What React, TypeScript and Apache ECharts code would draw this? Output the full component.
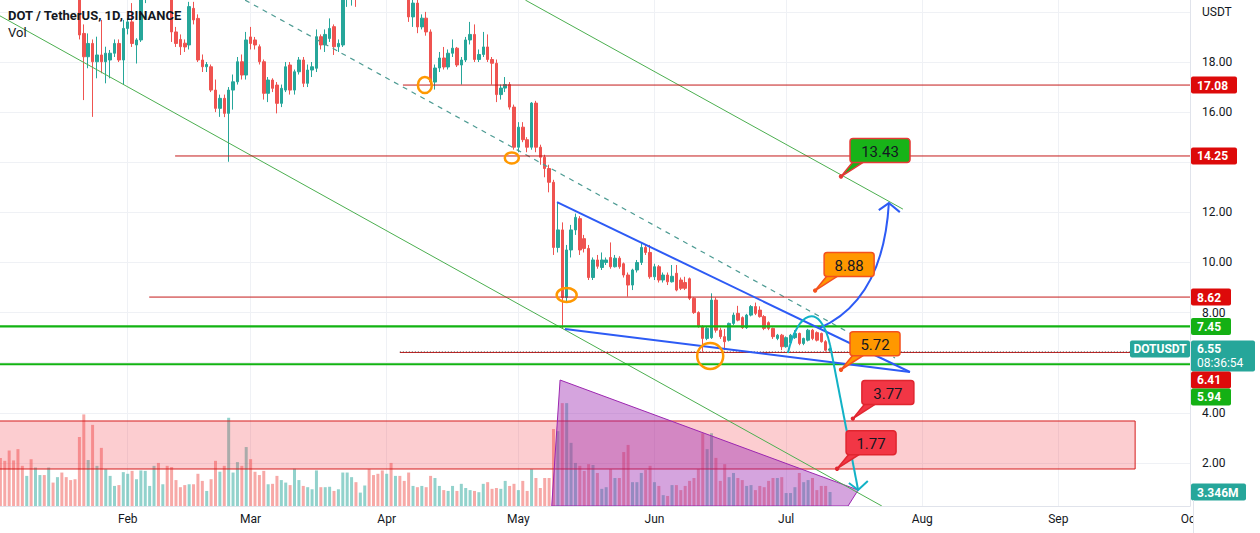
import React, { useEffect, useRef } from 'react';
import * as echarts from 'echarts';

// ---------------- data (DOT/USDT daily, Binance, 2022) ----------------
// x positions are day-of-year indexes (Jan 1 = 0); first candle = 2022-01-03
const firstCandleDay = 2;
// [open, close, low, high]
const ohlc: number[][] = [
  [29.0, 28.2, 27.6, 29.5], [28.2, 27.6, 27.2, 29.0], [27.6, 25.3, 24.9, 28.3], [25.3, 24.9, 24.2, 25.8],
  [24.9, 23.4, 22.9, 25.2], [23.4, 23.2, 22.8, 24.0], [23.2, 23.8, 22.7, 24.3], [23.8, 23.7, 21.9, 24.3],
  [23.7, 25.4, 23.3, 25.8], [25.4, 27.2, 25.2, 27.7], [27.2, 26.0, 25.6, 27.6], [26.0, 26.3, 25.5, 26.9],
  [26.3, 26.0, 25.4, 26.6], [26.0, 26.8, 25.8, 27.1], [26.8, 25.6, 25.1, 27.0], [25.6, 25.2, 24.6, 26.0],
  [25.2, 24.4, 24.1, 26.0], [24.4, 23.5, 22.9, 24.7], [23.5, 19.08, 18.9, 23.9], [19.14, 18.21, 16.48, 19.5],
  [18.21, 18.74, 17.75, 19.14], [18.74, 18.01, 15.81, 18.9], [18.01, 18.28, 17.35, 19.01], [18.28, 18.01, 17.55, 19.68],
  [18.01, 18.35, 17.15, 18.61], [18.08, 18.35, 17.35, 18.48], [18.35, 18.74, 18.2, 18.9], [18.74, 18.08, 18.0, 18.9],
  [18.08, 19.34, 17.08, 19.68], [19.34, 19.6, 19.1, 19.75], [19.6, 18.74, 18.6, 20.35], [18.68, 18.88, 17.94, 18.95],
  [18.88, 20.9, 18.8, 21.0], [20.9, 21.5, 20.35, 21.8], [21.5, 22.0, 21.2, 22.4], [22.0, 22.5, 21.7, 23.0],
  [22.5, 21.7, 21.3, 22.9], [21.7, 22.3, 21.5, 22.8], [22.3, 20.9, 20.7, 22.6], [20.9, 19.2, 18.8, 21.2],
  [19.2, 18.74, 18.6, 19.4], [18.9, 18.61, 18.28, 19.1], [18.75, 18.6, 18.4, 18.9], [18.68, 20.21, 18.5, 20.4],
  [20.14, 19.68, 19.5, 20.4], [19.74, 18.08, 18.0, 19.9], [18.08, 17.81, 17.6, 18.3], [17.81, 17.9, 17.6, 18.0],
  [17.81, 16.88, 16.8, 17.9], [16.88, 16.15, 16.0, 17.3], [16.15, 16.55, 15.81, 16.7], [16.55, 15.95, 15.8, 16.7],
  [15.95, 16.88, 14.02, 17.0], [16.88, 17.21, 16.1, 17.5], [17.21, 18.01, 17.1, 18.2], [18.01, 17.48, 17.3, 18.3],
  [17.48, 18.88, 17.3, 19.2], [19.0, 18.74, 18.5, 19.4], [18.88, 18.68, 18.5, 19.0], [18.61, 18.01, 17.9, 18.7],
  [18.01, 16.75, 16.5, 18.1], [16.75, 17.28, 16.4, 17.4], [17.28, 16.95, 16.8, 17.35], [17.08, 16.35, 15.95, 17.2],
  [16.35, 16.95, 16.2, 17.1], [16.88, 17.81, 16.8, 18.0], [17.88, 16.88, 16.7, 18.0], [16.88, 17.61, 16.7, 17.7],
  [17.61, 18.08, 17.5, 18.2], [18.08, 17.15, 17.0, 18.2], [17.15, 17.68, 17.0, 17.9], [17.68, 17.81, 17.4, 18.0],
  [17.75, 19.01, 17.6, 19.3], [19.01, 18.68, 18.5, 19.1], [18.68, 19.1, 18.4, 19.3], [18.94, 19.34, 18.8, 19.74],
  [19.41, 18.61, 18.28, 19.5], [18.61, 18.74, 18.4, 18.9], [18.68, 20.6, 18.6, 20.9], [20.6, 21.3, 20.2, 21.5],
  [21.3, 22.2, 20.25, 22.5], [22.2, 21.6, 20.2, 22.7], [21.6, 22.5, 21.3, 22.9], [22.5, 23.3, 22.2, 23.6],
  [23.3, 23.1, 22.6, 23.9], [23.1, 22.9, 22.4, 23.5], [22.9, 22.3, 21.9, 23.4], [22.3, 21.7, 21.3, 22.8],
  [21.7, 22.6, 21.2, 22.9], [22.6, 22.3, 22.0, 23.2], [22.3, 22.8, 22.0, 23.0], [22.8, 22.6, 21.8, 23.2],
  [22.6, 21.6, 21.4, 23.0], [21.6, 19.8, 19.6, 21.7], [19.8, 20.35, 19.4, 20.6], [20.35, 19.4, 19.15, 20.5],
  [19.4, 19.75, 19.3, 19.9], [19.75, 19.2, 19.05, 20.0], [19.2, 17.2, 17.1, 19.3], [17.2, 17.76, 16.9, 17.9],
  [17.76, 18.16, 17.6, 18.4], [18.16, 17.8, 17.7, 18.6], [17.8, 18.35, 17.7, 18.5], [18.35, 18.55, 18.2, 18.9],
  [18.55, 17.88, 17.8, 18.6], [17.88, 18.08, 17.1, 18.2], [18.08, 18.88, 18.0, 19.0], [18.88, 19.1, 18.7, 19.6],
  [19.1, 18.1, 18.0, 19.5], [18.1, 18.3, 18.0, 18.5], [18.3, 18.6, 18.2, 19.2], [18.6, 18.1, 18.0, 19.1],
  [18.1, 17.95, 17.1, 18.2], [17.95, 16.7, 16.4, 18.1], [16.7, 16.96, 16.5, 17.1], [16.96, 17.1, 16.8, 17.4],
  [17.1, 16.2, 16.1, 17.2], [16.2, 14.6, 14.5, 16.3], [14.6, 15.4, 14.4, 15.6], [15.4, 14.9, 14.8, 15.6],
  [14.9, 14.6, 14.4, 15.0], [14.6, 16.36, 14.5, 16.4], [16.36, 14.6, 14.4, 16.45], [14.6, 14.2, 13.9, 14.7],
  [14.2, 13.75, 13.4, 14.3], [13.75, 13.2, 12.8, 13.9], [13.2, 10.6, 10.3, 13.3], [10.6, 11.3, 10.4, 12.4],
  [11.3, 8.6, 7.38, 11.6], [8.6, 10.5, 8.4, 10.7], [10.5, 11.3, 10.2, 11.5], [11.3, 11.8, 11.1, 11.95],
  [11.75, 10.5, 10.3, 11.85], [10.95, 10.56, 10.4, 11.1], [10.56, 9.4, 9.3, 10.7], [9.4, 10.1, 9.3, 10.2],
  [10.1, 9.85, 9.75, 10.3], [9.8, 10.1, 9.7, 10.4], [10.0, 10.1, 9.9, 10.2], [10.2, 9.83, 9.75, 10.8],
  [9.83, 10.17, 9.8, 10.3], [10.17, 9.83, 9.75, 10.25], [9.95, 9.5, 9.4, 10.0], [9.5, 9.1, 8.64, 9.6],
  [9.1, 9.7, 8.9, 9.75], [9.7, 10.0, 9.6, 10.1], [10.0, 10.6, 9.9, 10.8], [10.6, 10.4, 10.3, 10.7],
  [10.4, 9.43, 9.35, 10.7], [9.43, 9.83, 9.3, 9.95], [9.83, 9.3, 9.2, 9.9], [9.3, 9.5, 9.2, 9.6],
  [9.5, 9.23, 9.1, 9.6], [9.23, 9.45, 9.2, 9.9], [9.57, 8.9, 8.85, 9.9], [9.3, 8.97, 8.9, 9.4],
  [9.2, 8.97, 8.9, 9.43], [9.35, 8.57, 8.5, 9.4], [8.57, 8.0, 7.95, 8.6], [8.0, 7.44, 7.4, 8.05],
  [7.44, 6.97, 6.44, 7.5], [6.97, 7.37, 6.9, 7.45], [7.0, 8.5, 6.95, 8.77], [8.5, 7.3, 7.2, 8.6],
  [7.3, 7.04, 6.95, 7.4], [7.04, 6.84, 6.5, 7.35], [6.9, 7.57, 6.85, 7.6], [7.57, 7.9, 7.5, 8.0],
  [7.97, 7.7, 7.65, 8.27], [7.8, 7.4, 7.35, 7.85], [7.4, 7.9, 7.35, 7.95], [7.9, 8.24, 7.85, 8.3],
  [8.24, 7.97, 7.9, 8.4], [8.1, 7.84, 7.8, 8.25], [7.84, 7.37, 7.3, 7.9], [7.6, 7.37, 7.3, 7.65],
  [7.37, 7.04, 6.95, 7.4], [6.97, 7.1, 6.9, 7.15], [7.1, 6.64, 6.5, 7.15], [6.64, 7.0, 6.6, 7.05],
  [6.8, 7.1, 6.75, 7.15], [7.0, 7.17, 6.95, 7.3], [7.17, 6.77, 6.7, 7.2], [6.77, 6.97, 6.7, 7.0],
  [6.9, 7.3, 6.85, 7.35], [7.3, 6.97, 6.9, 7.35], [7.2, 6.9, 6.85, 7.25], [7.17, 6.84, 6.8, 7.2],
  [6.84, 6.5, 6.45, 6.9], [6.5, 6.55, 6.45, 6.6],
];
// daily volume, millions of DOT
const volumeM: number[] = [
  11.5, 10.8, 13.3, 10.9, 13.6, 9.6, 7.2, 11.2, 9.2, 7.4,
  7.4, 9.2, 5.6, 6.9, 8.0, 6.9, 6.2, 6.4, 16.5, 21.9,
  11.0, 19.4, 9.6, 13.9, 8.8, 7.2, 4.8, 5.0, 8.1, 7.7,
  8.4, 6.4, 8.5, 8.4, 4.8, 9.6, 10.3, 5.2, 9.6, 9.3,
  6.2, 4.5, 5.0, 5.2, 5.2, 7.7, 6.0, 3.6, 6.4, 10.8,
  8.2, 9.6, 21.1, 8.0, 10.5, 9.6, 14.1, 11.2, 8.2, 7.4,
  8.4, 5.2, 5.3, 7.2, 6.2, 5.6, 5.0, 8.9, 6.2, 4.8,
  4.5, 4.0, 8.5, 4.5, 4.5, 4.6, 3.6, 4.0, 8.0, 8.0,
  6.9, 5.7, 3.2, 4.9, 8.8, 7.4, 7.7, 8.5, 7.7, 10.3,
  7.2, 7.2, 6.0, 8.0, 4.8, 4.5,
  4.8, 4.5, 7.2, 6.7, 4.8, 3.8, 3.6, 4.8, 3.6, 5.3,
  4.3, 3.8, 3.6, 3.3, 5.3, 5.7, 4.1, 4.3, 4.1, 6.0,
  4.8, 5.3, 3.8, 6.0, 3.6, 8.8, 6.7, 4.3, 6.7, 6.7,
  18.4, 17.9, 24.6, 24.6, 15.1, 10.3, 9.6, 8.4, 10.0, 9.8,
  7.9, 4.1, 4.5, 8.8, 6.7, 6.7, 12.9, 14.6, 5.7, 5.7,
  7.9, 8.6, 9.6, 5.7, 4.8, 2.6, 2.4, 5.0, 5.0, 3.8,
  4.8, 6.0, 6.7, 8.8, 17.4, 13.6, 17.4, 11.5, 6.0, 10.0,
  6.9, 7.9, 6.7, 6.2, 4.8, 5.0, 3.8, 4.8, 4.5, 6.0,
  6.7, 6.7, 6.9, 3.1, 3.1, 4.5, 7.9, 5.7, 6.2, 6.7,
  3.8, 4.8, 4.8, 3.346,
];

const monthStartDays = [31, 59, 90, 120, 151, 181, 212, 243, 273];
const monthLabels = ['Feb', 'Mar', 'Apr', 'May', 'Jun', 'Jul', 'Aug', 'Sep', 'Oct'];
const priceGridTicks = [2, 4, 6, 8, 10, 12, 14, 16, 18, 20];
const priceLabelTicks = [2, 4, 8, 10, 12, 16, 18, 20];

const lastPrice = 6.55;
const countdown = '08:36:54';
const lastVolumeText = '3.346M';

// drawings, in [day, price] chart coordinates
const levels = [
  { price: 17.08, fromDay: 93.7, kind: 'red' },
  { price: 14.25, fromDay: 41.8, kind: 'red' },
  { price: 8.62, fromDay: 35.9, kind: 'red' },
  { price: 7.45, fromDay: null, kind: 'green' },
  { price: 6.41, fromDay: 93.0, kind: 'red' },
  { price: 5.94, fromDay: null, kind: 'green' },
];
const channelLines = [
  [[1.91, 19.84], [202.8, 0.283]],
  [[121.6, 20.47], [207.6, 12.13]],
];
const midDashed = [[57.75, 20.47], [205.8, 6.19]];
const wedgeLines = [
  [[128.8, 12.41], [209.2, 5.63]],
  [[130.6, 7.35], [209.2, 5.63]],
];
const circles = [
  { day: 98.7, price: 17.08, rx: 7, ry: 8 },
  { day: 118.5, price: 14.17, rx: 7, ry: 5.5 },
  { day: 131.0, price: 8.7, rx: 10, ry: 7 },
  { day: 163.7, price: 6.27, rx: 13, ry: 13 },
];
const zone = { toDay: 260.5, low: 1.76, high: 3.675 };
const volumeWedge = [[129.5, 5.31], [197.4, 0.92], [195.1, 0.283], [127.6, 0.283]];
const upArrow = { curve: [[188.7, 7.39], [197.8, 8.1], [203.5, 9.7], [204.4, 12.37]], head: [[202.1, 12.09], [204.4, 12.37], [206.9, 12.01]] };
const downArrow = { curve: [[181.4, 6.39], [183.5, 8.02], [188.7, 8.5], [191.0, 6.71]], tail: [197.4, 0.92], head: [[195.3, 1.2], [197.4, 0.92], [199.6, 1.28]] };
const callouts = [
  { label: '13.43', day: 193.5, price: 13.43, fill: '#18b318', border: '#e53935', width: 60 },
  { label: '8.88', day: 187.6, price: 8.88, fill: '#ff9800', border: '#f4511e', width: 50 },
  { label: '5.72', day: 193.5, price: 5.72, fill: '#ff9800', border: '#f4511e', width: 50 },
  { label: '3.77', day: 196.2, price: 3.77, fill: '#f23645', border: '#e0252f', width: 52 },
  { label: '1.77', day: 192.6, price: 1.77, fill: '#f23645', border: '#e0252f', width: 50 },
];

// ---------------- styles ----------------
const X_MIN = 1.91, X_MAX = 273.0, P_MIN = 0.283, P_MAX = 20.474, VOL_MAX = 121;
const UP = '#26a69a', DOWN = '#ef5350';
const VOL_UP = 'rgba(38,166,154,0.5)', VOL_DOWN = 'rgba(239,83,80,0.5)';
const LINE_RED = '#c41a1a', TAG_RED = '#dd0a0a', LINE_GREEN = '#12b312', TAG_GREEN = '#14b014';
const BLUE = '#2d5bf5', CYAN = '#12b2c6', ORANGE = '#ff9800', CH_GREEN = '#4caf50', DASH = '#4d9b93';
const TEXT = '#131722';
const FONT = 'Roboto, "Noto Sans", sans-serif';

const txt = (x: number, y: number, text: string, font: string, fill: string, align = 'left') => ({
  type: 'text', x, y,
  style: { text, font, fill, align, verticalAlign: 'middle', textAlign: align, textVerticalAlign: 'middle' },
});

function renderDrawings(params: any, api: any) {
  const cs = params.coordSys;
  const xL = cs.x, xR = cs.x + cs.width;
  const P = (d: number, p: number): number[] => api.coord([d, p]);
  const c: any[] = [];
  const seg = (a: number[], b: number[], stroke: string, lineWidth: number, lineDash?: number[]) => {
    const A = P(a[0], a[1]), B = P(b[0], b[1]);
    c.push({ type: 'line', shape: { x1: A[0], y1: A[1], x2: B[0], y2: B[1] }, style: { stroke, lineWidth, lineDash, fill: 'none' } });
  };
  // pink zone
  const zt = P(X_MIN, zone.high), zb = P(zone.toDay, zone.low);
  c.push({ type: 'rect', shape: { x: xL - 3, y: zt[1], width: zb[0] - xL + 3, height: zb[1] - zt[1] }, style: { fill: 'rgba(242,54,69,0.25)', stroke: '#d41c1c', lineWidth: 1 } });
  // purple volume wedge
  c.push({ type: 'polygon', shape: { points: volumeWedge.map((q) => P(q[0], q[1])) }, style: { fill: 'rgba(156,39,176,0.42)', stroke: '#9c27b0', lineWidth: 1 } });
  // channel
  channelLines.forEach((l) => seg(l[0], l[1], CH_GREEN, 1));
  seg(midDashed[0], midDashed[1], DASH, 1.2, [5, 5]);
  // levels
  levels.forEach((l) => {
    const y = P(X_MIN, l.price)[1];
    const x0 = l.fromDay == null ? xL : P(l.fromDay, l.price)[0];
    c.push({ type: 'line', shape: { x1: x0, y1: y, x2: xR, y2: y }, style: { stroke: l.kind === 'red' ? LINE_RED : LINE_GREEN, lineWidth: l.kind === 'red' ? 1 : 2.2 } });
  });
  // last price dotted line
  {
    const y = P(X_MIN, lastPrice)[1];
    c.push({ type: 'line', shape: { x1: P(93, lastPrice)[0], y1: y + 3, x2: xR, y2: y + 3 }, style: { stroke: '#444', lineWidth: 1, lineDash: [1, 2] } });
  }
  // wedge
  wedgeLines.forEach((l) => seg(l[0], l[1], BLUE, 2));
  // circles
  circles.forEach((e) => {
    const C = P(e.day, e.price);
    c.push({ type: 'ellipse', shape: { cx: C[0], cy: C[1], rx: e.rx, ry: e.ry }, style: { fill: 'none', stroke: ORANGE, lineWidth: 2.5 } });
  });
  // up arrow
  {
    const q = upArrow.curve.map((p) => P(p[0], p[1]));
    c.push({ type: 'bezierCurve', shape: { x1: q[0][0], y1: q[0][1], cpx1: q[1][0], cpy1: q[1][1], cpx2: q[2][0], cpy2: q[2][1], x2: q[3][0], y2: q[3][1] }, style: { stroke: BLUE, lineWidth: 2, fill: 'none' } });
    c.push({ type: 'polyline', shape: { points: upArrow.head.map((p) => P(p[0], p[1])) }, style: { stroke: BLUE, lineWidth: 2, fill: 'none' } });
  }
  // down arrow
  {
    const q = downArrow.curve.map((p) => P(p[0], p[1]));
    c.push({ type: 'bezierCurve', shape: { x1: q[0][0], y1: q[0][1], cpx1: q[1][0], cpy1: q[1][1], cpx2: q[2][0], cpy2: q[2][1], x2: q[3][0], y2: q[3][1] }, style: { stroke: CYAN, lineWidth: 2, fill: 'none' } });
    const t = P(downArrow.tail[0], downArrow.tail[1]);
    c.push({ type: 'line', shape: { x1: q[3][0], y1: q[3][1], x2: t[0], y2: t[1] }, style: { stroke: CYAN, lineWidth: 2 } });
    c.push({ type: 'polyline', shape: { points: downArrow.head.map((p) => P(p[0], p[1])) }, style: { stroke: CYAN, lineWidth: 2, fill: 'none' } });
  }
  // callouts
  callouts.forEach((co) => {
    const T = P(co.day, co.price);
    const bx = T[0] + 9, by = T[1] - 38, bh = 24;
    c.push({ type: 'polygon', shape: { points: [[T[0], T[1]], [bx + 4, by + bh - 2], [bx + 16, by + bh - 2]] }, style: { fill: co.fill, stroke: co.border, lineWidth: 1.5 } });
    c.push({ type: 'rect', shape: { x: bx, y: by, width: co.width, height: bh, r: 3 }, style: { fill: co.fill, stroke: co.border, lineWidth: 1.5 } });
    c.push(txt(bx + co.width / 2, by + bh / 2 + 1, co.label, `15px ${FONT}`, TEXT, 'center'));
    c.push({ type: 'circle', shape: { cx: T[0], cy: T[1], r: 2.2 }, style: { fill: co.border } });
  });
  return { type: 'group', children: c };
}

function renderPriceTags(params: any, api: any) {
  const cs = params.coordSys;
  const ax = cs.x + cs.width;
  const tags = [
    { price: 17.08, text: '17.08', color: TAG_RED, w: 46 },
    { price: 14.25, text: '14.25', color: TAG_RED, w: 46 },
    { price: 8.62, text: '8.62', color: TAG_RED, w: 40 },
    { price: 7.45, text: '7.45', color: TAG_GREEN, w: 40 },
    { price: lastPrice, text: lastPrice.toFixed(2), color: UP, w: 64, sub: countdown },
    { price: 6.41, text: '6.41', color: TAG_RED, w: 40 },
    { price: 5.94, text: '5.94', color: TAG_GREEN, w: 40 },
  ].map((t) => ({ ...t, top: api.coord([X_MIN, t.price])[1] - 8.5, h: t.sub ? 31 : 17 }))
    .sort((a, b) => a.top - b.top);
  const c: any[] = [];
  let prevBottom = -1e9;
  tags.forEach((t) => {
    const top = Math.max(t.top, prevBottom);
    prevBottom = top + t.h;
    c.push({ type: 'rect', shape: { x: ax + 1, y: top, width: t.w, height: t.h, r: 2 }, style: { fill: t.color } });
    c.push(txt(ax + 7, top + 9, t.text, `bold 12px ${FONT}`, '#ffffff'));
    if (t.sub) {
      c.push(txt(ax + 7, top + 23, t.sub, `12px ${FONT}`, '#ffffff'));
      c.push({ type: 'rect', shape: { x: ax - 60, y: top, width: 60, height: 17, r: 2 }, style: { fill: UP } });
      c.push(txt(ax - 30, top + 9, 'DOTUSDT', `bold 12px ${FONT}`, '#ffffff', 'center'));
    }
  });
  return { type: 'group', children: c };
}

function renderVolumeTag(params: any, api: any) {
  const cs = params.coordSys;
  const ax = cs.x + cs.width;
  const y = api.coord([firstCandleDay + volumeM.length - 1, volumeM[volumeM.length - 1]])[1];
  return {
    type: 'group',
    children: [
      { type: 'rect', shape: { x: ax + 1, y: y - 8.5, width: 55, height: 17, r: 2 }, style: { fill: UP } },
      txt(ax + 7, y + 0.5, lastVolumeText, `bold 12px ${FONT}`, '#ffffff'),
    ],
  };
}

function buildOption() {
  const candles = ohlc.map((q, i) => [firstCandleDay + i, q[0], q[1], q[2], q[3]]);
  const vols = volumeM.map((v, i) => ({
    value: [firstCandleDay + i, v],
    itemStyle: { color: ohlc[i][1] >= ohlc[i][0] ? VOL_UP : VOL_DOWN },
  }));
  return {
    animation: false,
    backgroundColor: '#ffffff',
    grid: { left: 0, right: 70, top: 0, bottom: 27, containLabel: false, outerBoundsMode: 'none' },
    xAxis: {
      type: 'value', min: X_MIN, max: X_MAX,
      axisLine: { show: true, onZero: false, lineStyle: { color: '#e0e3eb' } },
      axisTick: { show: false, customValues: monthStartDays },
      axisLabel: {
        customValues: monthStartDays,
        formatter: (v: number) => monthLabels[monthStartDays.indexOf(Math.round(v))] ?? '',
        color: TEXT, fontSize: 12, fontFamily: FONT, margin: 7,
      },
      splitLine: { show: true, lineStyle: { color: '#eff1f5', width: 1 } },
    },
    yAxis: [
      {
        type: 'value', position: 'right', min: P_MIN, max: P_MAX,
        axisLine: { show: true, onZero: false, lineStyle: { color: '#e0e3eb' } },
        axisTick: { show: false, customValues: priceGridTicks },
        axisLabel: {
          customValues: priceLabelTicks,
          formatter: (v: number) => (v === 20 ? 'USDT' : v.toFixed(2)),
          color: TEXT, fontSize: 12, fontFamily: FONT, margin: 12,
        },
        splitLine: { show: true, lineStyle: { color: '#eff1f5', width: 1 } },
      },
      { type: 'value', min: 0, max: VOL_MAX, show: false, splitLine: { show: false } },
    ],
    series: [
      { type: 'bar', xAxisIndex: 0, yAxisIndex: 1, data: vols, barWidth: 3, silent: true, z: 2 },
      {
        type: 'candlestick', xAxisIndex: 0, yAxisIndex: 0, data: candles, barWidth: 3, silent: true, z: 3, clip: true,
        itemStyle: { color: UP, color0: DOWN, borderColor: UP, borderColor0: DOWN, borderWidth: 1 },
      },
      { type: 'custom', xAxisIndex: 0, yAxisIndex: 0, data: [[X_MIN, P_MIN]], renderItem: renderDrawings, clip: true, silent: true, z: 5 },
      { type: 'custom', xAxisIndex: 0, yAxisIndex: 0, data: [[X_MIN, P_MIN]], renderItem: renderPriceTags, clip: false, silent: true, z: 10 },
      { type: 'custom', xAxisIndex: 0, yAxisIndex: 1, data: [[X_MIN, 0]], renderItem: renderVolumeTag, clip: false, silent: true, z: 10 },
    ],
    graphic: [
      { type: 'text', left: 8, top: 9, z: 50, style: { text: 'DOT / TetherUS, 1D, BINANCE', font: `bold 13px ${FONT}`, fill: TEXT } },
      { type: 'text', left: 8, top: 26, z: 50, style: { text: 'Vol', font: `13px ${FONT}`, fill: TEXT } },
      { type: 'rect', left: 1194, top: 507, z: 100, shape: { width: 66, height: 26 }, style: { fill: '#ffffff' } },
      { type: 'line', z: 101, shape: { x1: 1193.5, y1: 500, x2: 1193.5, y2: 533 }, style: { stroke: '#e0e3eb', lineWidth: 1 } },
    ],
  };
}

export default function App() {
  const ref = useRef<HTMLDivElement>(null);
  useEffect(() => {
    const el = ref.current;
    if (!el) return;
    const chart = echarts.init(el, null, { renderer: 'svg' });
    chart.setOption(buildOption() as any);
    return () => chart.dispose();
  }, []);
  return (
    <div
      ref={ref}
      style={{ position: 'fixed', left: 0, top: 0, width: 1260, height: 533, background: '#ffffff' }}
    />
  );
}
